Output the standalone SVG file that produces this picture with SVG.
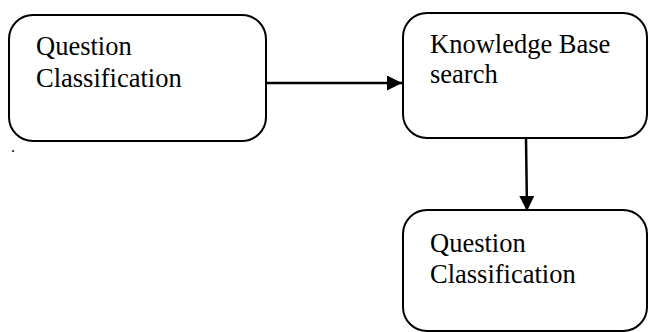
<svg xmlns="http://www.w3.org/2000/svg" width="649" height="332" viewBox="0 0 649 332">
<style>
.box{fill:#fff;stroke:#000;stroke-width:2}
.t{font-family:"Liberation Serif","Times New Roman",serif;font-size:26.5px;fill:#000}
.c{stroke:#000;stroke-width:2.5;fill:none}
</style>
<defs>
<marker id="ah" viewBox="0 0 10 10" refX="10" refY="5" markerWidth="6.4" markerHeight="6" markerUnits="strokeWidth" orient="auto">
<path d="M0,0 L10,5 L0,10 z" fill="#000"/>
</marker>
</defs>
<rect width="649" height="332" fill="#fff"/>
<g id="node1">
<rect class="box" x="9" y="15" width="257" height="126" rx="24"/>
<text class="t" x="36" y="55">Question</text>
<text class="t" x="36" y="87">Classification</text>
</g>
<g id="node2">
<rect class="box" x="403" y="13" width="244" height="125" rx="24"/>
<text class="t" x="430" y="53">Knowledge Base</text>
<text class="t" x="430" y="83">search</text>
</g>
<g id="node3">
<rect class="box" x="403" y="210" width="244" height="121" rx="24"/>
<text class="t" x="430" y="252">Question</text>
<text class="t" x="430" y="283">Classification</text>
</g>
<text class="t" x="11" y="152" style="font-size:16px">.</text>
<g id="connectors">
<line class="c" x1="266" y1="83" x2="402" y2="83" marker-end="url(#ah)"/>
<line class="c" x1="526" y1="138" x2="527" y2="211" marker-end="url(#ah)"/>
</g>
</svg>
